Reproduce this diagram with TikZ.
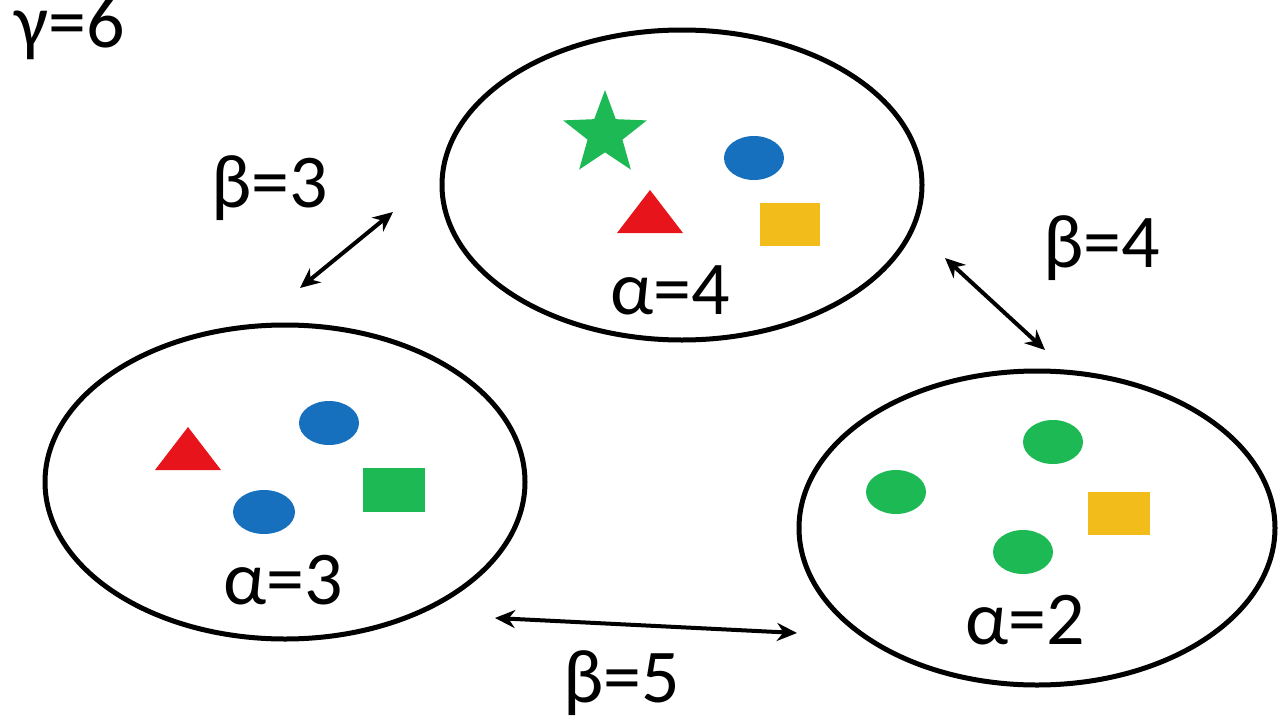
\documentclass[tikz,border=0pt]{standalone}
\usepackage{fontspec}
\setmainfont{Carlito}
\usetikzlibrary{shapes.geometric,arrows.meta}
\definecolor{gr}{HTML}{1DB954}
\definecolor{bl}{HTML}{1670BE}
\definecolor{rd}{HTML}{E8141C}
\definecolor{yl}{HTML}{F2BD1B}
\begin{document}
\begin{tikzpicture}[x=1pt,y=-1pt,
  bub/.style={draw,line width=5pt},
  lab/.style={font=\fontsize{76}{78}\selectfont,inner sep=0},
  arr/.style={<->,line width=4pt,>={Stealth[length=20pt,width=18pt]}}]
\useasboundingbox (0,0) rectangle (1280,720);
\node[bub,ellipse,minimum width=480,minimum height=310] (T) at (682,185) {};
\node[bub,ellipse,minimum width=480,minimum height=314] (L) at (285,482) {};
\node[bub,ellipse,minimum width=476,minimum height=314] (R) at (1037,528) {};
% top
\node[star,star points=5,star point ratio=2.4,fill=gr,minimum size=88,inner sep=0] (s1) at (605,134) {};
\fill[bl] (754,158) ellipse (30 and 22);
\fill[rd] (617,233) -- (650,190) -- (683,233) -- cycle;
\fill[yl] (760,203) rectangle (820,246);
\node[lab] (a4) at (670,290) {α=4};
% left
\fill[rd] (155,470) -- (188,427) -- (221,470) -- cycle;
\fill[bl] (329,423) ellipse (30 and 22);
\fill[bl] (264,512) ellipse (31 and 22);
\fill[gr] (363,468) rectangle (425,512);
\node[lab] (a3) at (283,580) {α=3};
% right
\fill[gr] (1053,442) ellipse (30 and 22);
\fill[gr] (896,492) ellipse (30 and 22);
\fill[gr] (1023,552) ellipse (30 and 22);
\fill[yl] (1088,492) rectangle (1150,535);
\node[lab] (a2) at (1025,620) {α=2};
% arrows
\coordinate (p1) at (300,288); \coordinate (p2) at (393,212);
\coordinate (q1) at (945,258); \coordinate (q2) at (1045,350);
\coordinate (r1) at (495,618); \coordinate (r2) at (797,633);
\draw[arr] (p1) -- (p2);
\draw[arr] (q1) -- (q2);
\draw[arr] (r1) -- (r2);
\node[lab] (b3) at (270,188) {β=3};
\node[lab] (b4) at (1102,248) {β=4};
\node[lab] (b5) at (622,683) {β=5};
\node[lab] (g6) at (70,28) {γ=6};
\end{tikzpicture}
\end{document}
